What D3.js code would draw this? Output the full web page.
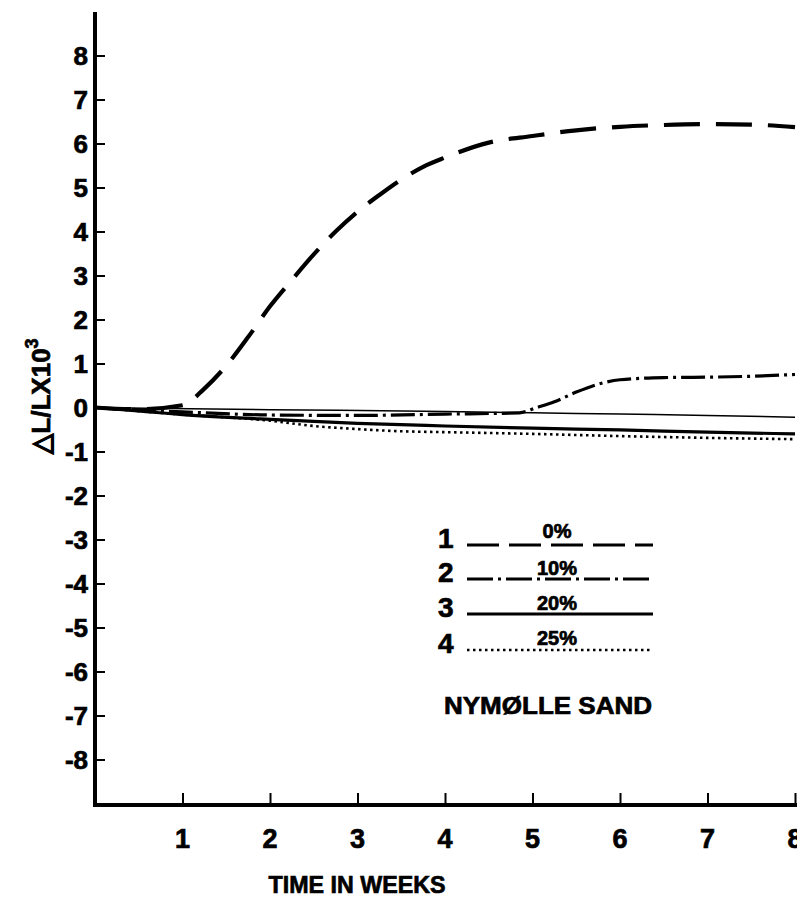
<html><head>
<title>Nymolle sand - length change</title>
<script src="https://d3js.org/d3.v7.min.js"></script>
<style>
  body { margin: 0; background: #fff; }
  text { font-family: "Liberation Sans", Arial, sans-serif; font-weight: bold; fill: #000;
         stroke: #000; stroke-width: 0.7px; }
</style>
</head>
<body>
<div id="container"></div>

<script>

  // values (weeks, dL/L x 10^3)
  const weeks1 = [0, 0.5, 1, 1.25, 1.5, 1.75, 2, 2.25, 2.5, 2.75, 3, 3.25, 3.5, 3.75, 4, 4.5, 5, 5.5, 6, 6.5, 7, 7.5, 8];
  const sand0  = [0, -0.04, 0.05, 0.43, 0.95, 1.6, 2.3, 2.9, 3.48, 4.0, 4.45, 4.83, 5.18, 5.47, 5.68, 6.02, 6.17, 6.3, 6.38, 6.42, 6.44, 6.43, 6.37];

  const weeks2 = [0, 1, 2, 3, 4, 4.85, 5.05, 5.25, 5.5, 5.75, 6, 6.5, 7, 7.5, 8];
  const sand10 = [0, -0.1, -0.17, -0.18, -0.15, -0.12, 0, 0.13, 0.35, 0.53, 0.63, 0.68, 0.69, 0.71, 0.75];

  const weeks3 = [0, 1, 2, 3, 4, 5, 6, 7, 8];
  const sand20 = [0, -0.16, -0.27, -0.36, -0.42, -0.47, -0.51, -0.56, -0.6];

  const weeks4 = [0, 1, 2, 2.5, 3, 3.5, 4, 5, 6, 7, 8];
  const sand25 = [0, -0.16, -0.3, -0.42, -0.49, -0.54, -0.56, -0.6, -0.65, -0.69, -0.72];

  // thin unlabelled line
  const weeksThin = [0, 2, 4, 5, 6, 7, 8];
  const thinLine  = [0, -0.05, -0.09, -0.12, -0.15, -0.18, -0.22];

  const xTicks = [1, 2, 3, 4, 5, 6, 7, 8];
  const yTicks = [-8, -7, -6, -5, -4, -3, -2, -1, 0, 1, 2, 3, 4, 5, 6, 7, 8];

  const legendNums = ["1", "2", "3", "4"];
  const legendPct  = ["0%", "10%", "20%", "25%"];

  const width = 797, height = 900;
  const svg = d3.select("#container").append("svg")
                .attr("width", width).attr("height", height);

  const xScale = d3.scaleLinear().domain([0, 8]).range([95, 795]);
  const yScale = d3.scaleLinear().domain([-8, 8]).range([759.5, 55.5]);
  const axisY = 805;

  // axes lines
  svg.append("line").attr("x1", 95).attr("x2", 95).attr("y1", 12).attr("y2", axisY + 2)
     .attr("stroke", "#000").attr("stroke-width", 4);
  svg.append("line").attr("x1", 93).attr("x2", 797).attr("y1", axisY).attr("y2", axisY)
     .attr("stroke", "#000").attr("stroke-width", 4);

  // y ticks (pointing inward)
  const yAxis = d3.axisRight(yScale).tickValues(yTicks).tickSize(10).tickFormat("");
  const yg = svg.append("g").attr("transform", "translate(95,0)").call(yAxis);
  yg.select(".domain").remove();
  yg.selectAll(".tick line").attr("stroke-width", 2);

  svg.selectAll(".ylab").data(yTicks).enter().append("text")
     .attr("class", "ylab")
     .attr("x", 88).attr("y", d => yScale(d) + 9)
     .attr("text-anchor", "end")
     .style("font-size", "26px")
     .text(d => d);

  // x ticks (pointing up)
  const xAxis = d3.axisTop(xScale).tickValues(xTicks).tickSize(12).tickFormat("");
  const xg = svg.append("g").attr("transform", "translate(0," + axisY + ")").call(xAxis);
  xg.select(".domain").remove();
  xg.selectAll(".tick line").attr("stroke-width", 2);

  svg.selectAll(".xlab").data(xTicks).enter().append("text")
     .attr("class", "xlab")
     .attr("x", d => xScale(d)).attr("y", 848)
     .attr("text-anchor", "middle")
     .style("font-size", "27px")
     .text(d => d);

  svg.append("text").attr("x", 357).attr("y", 893)
     .attr("text-anchor", "middle")
     .attr("textLength", 177).attr("lengthAdjust", "spacingAndGlyphs")
     .style("font-size", "24px")
     .text("TIME  IN  WEEKS");

  // y title
  const yt = svg.append("text")
     .attr("transform", "translate(50,396) rotate(-90)")
     .attr("text-anchor", "middle")
     .style("font-size", "26px");
  yt.append("tspan").text("\u25B3L/LX10");
  yt.append("tspan").attr("dy", -12).style("font-size", "18px").text("3");

  // curves
  const line = d3.line().x(d => xScale(d[0])).y(d => yScale(d[1])).curve(d3.curveMonotoneX);
  const pair = (xs, ys) => xs.map((w, i) => [w, ys[i]]);

  const series = [
    { data: pair(weeksThin, thinLine), w: 1.5, dash: null },
    { data: pair(weeks4, sand25), w: 2.6, dash: "2.5,3.5" },
    { data: pair(weeks3, sand20), w: 3.2, dash: null },
    { data: pair(weeks2, sand10), w: 3.2, dash: "24,5,3,5" },
    { data: pair(weeks1, sand0), w: 4.2, dash: "36,16" }
  ];

  series.forEach(s => {
    svg.append("path").attr("d", line(s.data))
       .attr("fill", "none").attr("stroke", "#000")
       .attr("stroke-width", s.w)
       .attr("stroke-dasharray", s.dash);
  });

  // legend
  const legDash = ["32,10", "26,5,3,5", null, "2.5,3.5"];
  const legW = [3, 2.8, 3, 2.5];
  const legY = [545, 579, 614, 650];
  const legTxtY = [538, 575, 610, 645];

  legendNums.forEach((n, i) => {
    svg.append("text").attr("x", 438).attr("y", legY[i] + 3)
       .style("font-size", "28px").text(n);
    svg.append("line").attr("x1", 467).attr("x2", 653)
       .attr("y1", legY[i]).attr("y2", legY[i])
       .attr("stroke", "#000").attr("stroke-width", legW[i])
       .attr("stroke-dasharray", legDash[i]);
    svg.append("text").attr("x", 557).attr("y", legTxtY[i])
       .attr("text-anchor", "middle")
       .style("font-size", "20px").text(legendPct[i]);
  });

  svg.append("text").attr("x", 548).attr("y", 714)
     .attr("text-anchor", "middle")
     .attr("textLength", 208).attr("lengthAdjust", "spacingAndGlyphs")
     .style("font-size", "24px")
     .text("NYMØLLE  SAND");

</script>
</body>
</html>
